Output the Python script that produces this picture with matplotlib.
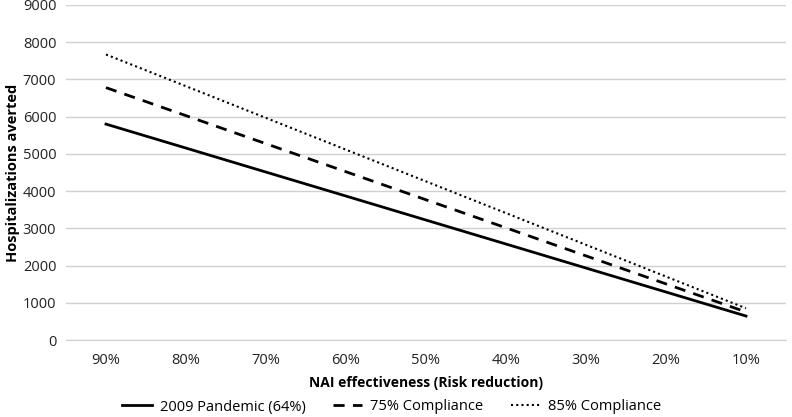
import matplotlib
matplotlib.use('Agg')
import matplotlib.pyplot as plt

# data
effect = ['90%', '80%', '70%', '60%', '50%', '40%', '30%', '20%', '10%']
pandemic = [5800, 5156, 4511, 3867, 3222, 2578, 1933, 1289, 644]
comp75 = [6780, 6027, 5273, 4520, 3767, 3013, 2260, 1507, 753]
comp85 = [7670, 6818, 5966, 5113, 4261, 3409, 2557, 1704, 852]

plt.rcParams['font.family'] = ['Open Sans', 'DejaVu Sans']

fig = plt.figure(figsize=(7.92, 4.17), dpi=100)
ax = fig.add_axes([66/792, 1 - 340/417, 720/792, 335/417])

x = range(len(effect))
ax.plot(x, pandemic, color='black', lw=2, ls='-', label='2009 Pandemic (64%)')
ax.plot(x, comp75, color='black', lw=2, ls=(0, (4, 3)), label='75% Compliance')
ax.plot(x, comp85, color='black', lw=1.5, ls=(0, (1, 1.5)), label='85% Compliance')

ax.set_xlim(-0.5, 8.5)
ax.set_ylim(0, 9000)
ax.set_yticks(range(0, 9001, 1000))
ax.set_xticks(list(x))
ax.set_xticklabels(effect)
ax.grid(axis='y', color='#d0d0d0', lw=1)
ax.set_axisbelow(True)
for s in ['top', 'right', 'left']:
    ax.spines[s].set_visible(False)
ax.spines['bottom'].set_color('#d0d0d0')
ax.tick_params(axis='y', length=0, labelsize=10.5, colors='#222222', pad=7)
ax.tick_params(axis='x', length=0, labelsize=10.5, colors='#222222', pad=9)

ax.set_xlabel('NAI effectiveness (Risk reduction)', fontsize=10, fontweight='bold', labelpad=6)
ax.set_ylabel('Hospitalizations averted', fontsize=10.5, fontweight='bold')
ax.yaxis.set_label_coords(-46/720, 0.5)

fig.legend(*ax.get_legend_handles_labels(), loc='center', bbox_to_anchor=(392/792, 1 - 407/417),
           ncol=3, frameon=False, fontsize=10.5, handlelength=2.0, handletextpad=0.55,
           columnspacing=1.9, borderpad=0)

fig.savefig('out.png', dpi=100)
